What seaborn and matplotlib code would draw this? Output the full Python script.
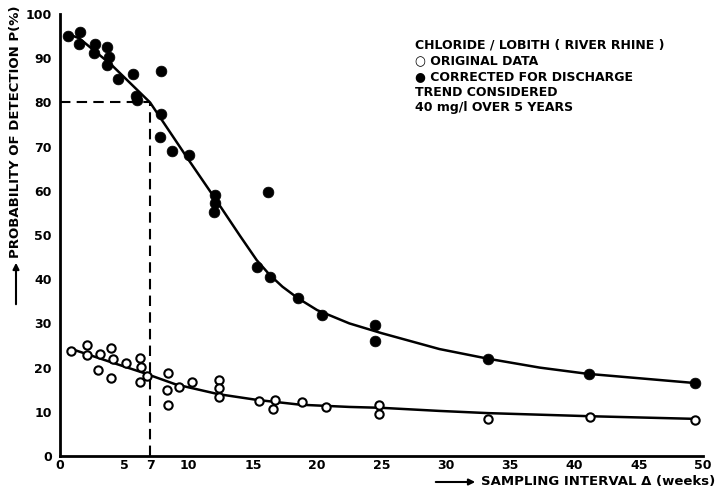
import matplotlib
matplotlib.use("Agg")
import matplotlib.pyplot as plt
import seaborn as sns
import pandas as pd

# ---- data ----
orig_x = [0.86, 2.1, 2.1, 3.1, 2.95, 4.0, 4.1, 4.0, 5.1, 6.2, 6.3, 6.2, 6.8,
          8.4, 8.3, 8.4, 9.25, 10.3, 12.4, 12.4, 12.4, 15.5, 16.7, 16.6, 18.8,
          20.7, 24.8, 24.8, 33.3, 41.2, 49.4]
orig_y = [23.8, 25.1, 22.9, 23.1, 19.5, 24.4, 21.9, 17.6, 21.0, 22.2, 20.2, 16.8, 18.0,
          18.8, 14.9, 11.6, 15.6, 16.7, 17.2, 15.4, 13.4, 12.4, 12.7, 10.6, 12.2,
          11.1, 11.5, 9.5, 8.4, 8.8, 8.1]

corr_x = [0.6, 1.55, 1.5, 2.7, 2.65, 3.65, 3.8, 3.65, 4.5, 5.7, 5.9, 6.0,
          7.85, 7.85, 7.8, 8.7, 10.0, 12.05, 12.05, 12.0, 16.2, 15.3, 16.3,
          18.5, 20.4, 24.5, 24.5, 33.3, 41.1, 49.4]
corr_y = [95.0, 96.0, 93.2, 93.2, 91.2, 92.5, 90.3, 88.5, 85.3, 86.4, 81.4, 80.5,
          87.1, 77.4, 72.2, 69.0, 68.1, 59.0, 57.2, 55.2, 59.7, 42.8, 40.5,
          35.7, 31.9, 29.6, 26.0, 21.9, 18.6, 16.5]

# hand-drawn trend curves
corr_curve_x = [0.6, 1.5, 4.0, 7.0, 10.0, 12.0, 14.0, 15.3, 16.3, 17.3, 18.5, 20.0,
                22.5, 25.0, 29.5, 33.3, 37.3, 41.0, 45.0, 49.4]
corr_curve_y = [95.5, 94.5, 88.5, 80.0, 67.0, 58.5, 49.8, 44.3, 41.0, 38.3, 35.7, 33.0,
                30.0, 27.8, 24.2, 22.0, 20.0, 18.6, 17.6, 16.5]
orig_curve_x = [0.8, 4.0, 6.5, 9.0, 12.3, 15.3, 18.7, 22.5, 25.0, 29.5, 33.3, 41.2, 49.4]
orig_curve_y = [24.3, 21.2, 18.8, 16.2, 14.0, 12.7, 11.6, 11.1, 10.9, 10.2, 9.7, 9.0, 8.4]

ref_x = 7
ref_p = 80

x_ticks = [0, 5, 7, 10, 15, 20, 25, 30, 35, 40, 45, 50]
y_ticks = [0, 10, 20, 30, 40, 50, 60, 70, 80, 90, 100]

legend_lines = ["CHLORIDE / LOBITH ( RIVER RHINE )",
                "\u25CB ORIGINAL DATA",
                "\u25CF CORRECTED FOR DISCHARGE",
                "TREND CONSIDERED",
                "40 mg/l OVER 5 YEARS"]
x_label = "SAMPLING INTERVAL \u0394 (weeks)"
y_label = "PROBABILITY OF DETECTION P(%)"

# ---- figure ----
sns.set_theme(style="white")
plt.rcParams['font.family'] = ['DejaVu Sans']
W, H = 717, 499
fig = plt.figure(figsize=(W / 100, H / 100), dpi=100)
ax = fig.add_axes([60 / W, 1 - 456 / H, (703 - 60) / W, (456 - 14) / H])

df_o = pd.DataFrame({"x": orig_x, "y": orig_y})
df_c = pd.DataFrame({"x": corr_x, "y": corr_y})
df_oc = pd.DataFrame({"x": orig_curve_x, "y": orig_curve_y})
df_cc = pd.DataFrame({"x": corr_curve_x, "y": corr_curve_y})

sns.lineplot(data=df_cc, x="x", y="y", ax=ax, color="black", lw=1.8, sort=False, zorder=2)
sns.lineplot(data=df_oc, x="x", y="y", ax=ax, color="black", lw=1.8, sort=False, zorder=2)
sns.scatterplot(data=df_c, x="x", y="y", ax=ax, color="black", s=60, edgecolor="black",
                linewidth=0.5, zorder=3)
sns.scatterplot(data=df_o, x="x", y="y", ax=ax, facecolor="white", s=36, edgecolor="black",
                linewidth=1.5, zorder=3)

ax.plot([0, ref_x], [ref_p, ref_p], ls=(0, (5, 3)), color="black", lw=1.5, zorder=1)
ax.plot([ref_x, ref_x], [0, ref_p], ls=(0, (5, 3)), color="black", lw=1.5, zorder=1)

ax.set_xlim(0, 50)
ax.set_ylim(0, 100)
ax.set_xticks(x_ticks)
ax.set_yticks(y_ticks)
ax.set_xticklabels([str(v) for v in x_ticks], fontweight="bold", fontsize=9)
ax.set_yticklabels([str(v) for v in y_ticks], fontweight="bold", fontsize=9)
ax.tick_params(axis="x", direction="in", length=5, width=1.5, pad=2, colors="black")
ax.tick_params(axis="y", direction="out", length=4, width=1.5, pad=2, colors="black")
ax.set_xlabel("")
ax.set_ylabel("")
for s in ["top", "right"]:
    ax.spines[s].set_visible(False)
for s in ["left", "bottom"]:
    ax.spines[s].set_color("black")
    ax.spines[s].set_linewidth(2)
ax.set_facecolor("white")

# legend block
for i, line in enumerate(legend_lines):
    fig.text(415 / W, 1 - (45 + i * 15.7) / H, line, fontsize=9, fontweight="bold",
             ha="left", va="center", color="black")

# axis labels with arrows
fig.text(1 - 2 / W, 1 - 482 / H, x_label, fontsize=9.5, fontweight="bold",
         ha="right", va="center", color="black")
fig.patches.append(matplotlib.patches.FancyArrowPatch(
    (433 / W, 1 - 482 / H), (478 / W, 1 - 482 / H), transform=fig.transFigure,
    arrowstyle="-|>", mutation_scale=9, lw=1.5, color="black"))
fig.text(16 / W, 1 - 258 / H, y_label, fontsize=9.5, fontweight="bold", rotation=90,
         ha="center", va="bottom", color="black")
fig.patches.append(matplotlib.patches.FancyArrowPatch(
    (16 / W, 1 - 307 / H), (16 / W, 1 - 260 / H), transform=fig.transFigure,
    arrowstyle="-|>", mutation_scale=9, lw=1.5, color="black"))

fig.savefig("out.png", dpi=100, facecolor="white")
